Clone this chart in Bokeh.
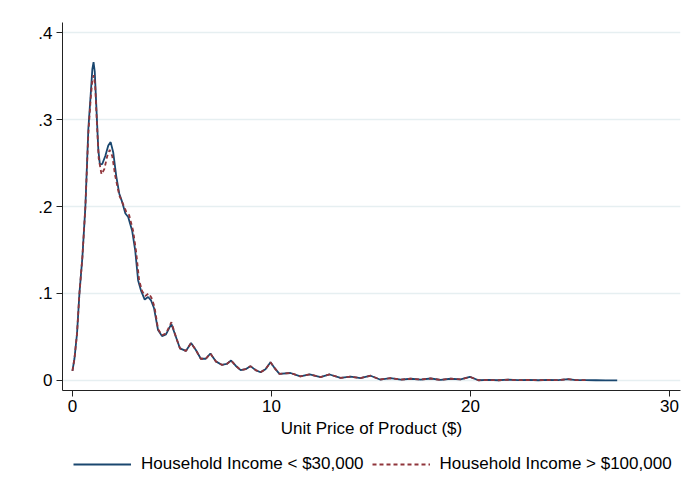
from bokeh.plotting import figure
from bokeh.layouts import column
from bokeh.models import Range1d, FixedTicker, Legend, LegendItem
from bokeh.embed import file_html
from bokeh.resources import INLINE

# Kernel density of unit price, Household Income < $30,000
price_low = [0.0, 0.1, 0.23, 0.35, 0.5, 0.65, 0.8, 0.92, 1.0, 1.06, 1.12, 1.2, 1.3, 1.38,
             1.5, 1.65, 1.8, 1.92, 2.05, 2.2, 2.35, 2.5, 2.66, 2.8, 3.0, 3.15, 3.3, 3.45,
             3.63, 3.8, 3.95, 4.1, 4.3, 4.5, 4.7, 4.97, 5.2, 5.4, 5.7, 5.96, 6.2, 6.45,
             6.7, 6.93, 7.2, 7.5, 7.75, 7.97, 8.2, 8.45, 8.7, 8.94, 9.2, 9.45, 9.7, 9.95,
             10.2, 10.4, 10.95, 11.45, 11.92, 12.46, 12.92, 13.47, 13.97, 14.47, 14.98,
             15.45, 15.98, 16.5, 17.0, 17.5, 18.0, 18.5, 19.0, 19.5, 19.97, 20.4, 20.9,
             21.4, 21.9, 22.4, 22.9, 23.4, 23.9, 24.4, 24.9, 25.3, 25.8, 26.3, 26.8, 27.37]
density_low = [0.011, 0.025, 0.054, 0.100, 0.142, 0.200, 0.290, 0.330, 0.358, 0.366, 0.355,
               0.315, 0.265, 0.248, 0.249, 0.258, 0.270, 0.274, 0.262, 0.235, 0.215, 0.205,
               0.192, 0.188, 0.172, 0.150, 0.115, 0.103, 0.093, 0.096, 0.092, 0.083, 0.058,
               0.051, 0.053, 0.065, 0.050, 0.037, 0.034, 0.043, 0.035, 0.025, 0.025, 0.031,
               0.022, 0.018, 0.019, 0.023, 0.017, 0.012, 0.013, 0.0165, 0.012, 0.0095, 0.013,
               0.021, 0.013, 0.0077, 0.0086, 0.0048, 0.0071, 0.0040, 0.0069, 0.0030, 0.0044,
               0.0027, 0.0055, 0.0011, 0.0027, 0.0010, 0.0020, 0.0011, 0.0023, 0.0006, 0.0020,
               0.0012, 0.0042, 0.0003, 0.0006, 0.0003, 0.0009, 0.0004, 0.0006, 0.0003, 0.0006,
               0.0004, 0.0015, 0.0004, 0.0004, 0.0003, 0.0002, 0.0001]

# Kernel density of unit price, Household Income > $100,000
price_high = [0.0, 0.1, 0.23, 0.35, 0.5, 0.65, 0.8, 0.92, 1.0, 1.07, 1.14, 1.22, 1.32, 1.46,
              1.6, 1.75, 1.87, 2.0, 2.15, 2.35, 2.5, 2.7, 2.85, 3.05, 3.2, 3.35, 3.5, 3.65,
              3.83, 3.97, 4.12, 4.3, 4.5, 4.7, 4.97, 5.2, 5.4, 5.7, 5.96, 6.2, 6.45,
              6.7, 6.93, 7.2, 7.5, 7.75, 7.97, 8.2, 8.45, 8.7, 8.94, 9.2, 9.45, 9.7, 9.95,
              10.2, 10.4, 10.95, 11.45, 11.92, 12.46, 12.92, 13.47, 13.97, 14.47, 14.98,
              15.45, 15.98, 16.5, 17.0, 17.5, 18.0, 18.5, 19.0, 19.5, 19.97, 20.4, 20.9,
              21.4, 21.9, 22.4, 22.9, 23.4, 23.9, 24.4, 24.9, 25.3, 25.9]
density_high = [0.011, 0.025, 0.054, 0.100, 0.142, 0.200, 0.285, 0.325, 0.345, 0.351, 0.340,
                0.300, 0.255, 0.237, 0.243, 0.258, 0.265, 0.258, 0.235, 0.213, 0.205, 0.194,
                0.190, 0.172, 0.148, 0.115, 0.103, 0.097, 0.100, 0.095, 0.085, 0.059, 0.052,
                0.054, 0.067, 0.050, 0.037, 0.034, 0.043, 0.035, 0.025, 0.025, 0.031,
                0.022, 0.018, 0.019, 0.023, 0.017, 0.012, 0.013, 0.0165, 0.012, 0.0095, 0.013,
                0.021, 0.013, 0.0077, 0.0086, 0.0048, 0.0071, 0.0040, 0.0069, 0.0030, 0.0044,
                0.0027, 0.0055, 0.0011, 0.0027, 0.0010, 0.0020, 0.0011, 0.0023, 0.0006, 0.0020,
                0.0012, 0.0042, 0.0003, 0.0006, 0.0003, 0.0009, 0.0004, 0.0006, 0.0003, 0.0006,
                0.0004, 0.0015, 0.0004, 0.0003]

x_ticks = [0, 10, 20, 30]
y_ticks = [0, 0.1, 0.2, 0.3, 0.4]
y_tick_labels = ["0", ".1", ".2", ".3", ".4"]
label_low = "Household Income < $30,000"
label_high = "Household Income > $100,000"
x_title = "Unit Price of Product ($)"

FONT = "Liberation Sans"
NAVY = "#1a476f"
MAROON = "#90353b"

# ---------------- main plot ----------------
fig = figure(width=684, height=448, output_backend="svg", toolbar_location=None,
             x_range=Range1d(-0.5, 30.55), y_range=Range1d(-0.0115, 0.4115),
             min_border_left=62, min_border_top=22, min_border_right=4,
             min_border_bottom=58)
fig.outline_line_color = None
fig.background_fill_color = "white"
fig.border_fill_color = "white"

fig.line(price_low, density_low, line_color=NAVY, line_width=1.8)
fig.line(price_high, density_high, line_color=MAROON, line_width=1.8, line_dash="4 3")

fig.xgrid.grid_line_color = None
fig.ygrid.grid_line_color = "#e6eff1"
fig.ygrid.grid_line_width = 1.5

for ax in (fig.xaxis[0], fig.yaxis[0]):
    ax.axis_line_color = "#222222"
    ax.axis_line_width = 1
    ax.major_tick_line_color = "#222222"
    ax.major_tick_out = 6
    ax.major_tick_in = 0
    ax.minor_tick_out = 0
    ax.minor_tick_in = 0
    ax.major_label_text_font = FONT
    ax.major_label_text_font_size = "17px"
    ax.major_label_text_color = "black"

fig.xaxis.ticker = FixedTicker(ticks=x_ticks)
fig.yaxis.ticker = FixedTicker(ticks=y_ticks)
fig.yaxis.major_label_overrides = {t: l for t, l in zip(y_ticks, y_tick_labels)}
fig.yaxis.major_label_orientation = "horizontal"
fig.yaxis.major_label_standoff = 4
fig.xaxis.major_label_standoff = 3
fig.xaxis.axis_label = x_title
fig.xaxis.axis_label_text_font = FONT
fig.xaxis.axis_label_text_font_size = "17px"
fig.xaxis.axis_label_text_font_style = "normal"
fig.xaxis.axis_label_text_color = "black"
fig.xaxis.axis_label_standoff = 4

# ---------------- legend strip ----------------
leg = figure(width=684, height=50, output_backend="svg", toolbar_location=None,
             x_range=Range1d(100, 101), y_range=Range1d(100, 101),
             min_border=0, x_axis_type=None, y_axis_type=None)
leg.outline_line_color = None
leg.xgrid.grid_line_color = None
leg.ygrid.grid_line_color = None
leg.border_fill_color = "white"
r_low = leg.line(price_low, density_low, line_color=NAVY, line_width=1.8)
r_high = leg.line(price_high, density_high, line_color=MAROON, line_width=1.8,
                  line_dash="4 3")

legend = Legend(items=[LegendItem(label=label_low, renderers=[r_low]),
                       LegendItem(label=label_high, renderers=[r_high])],
                orientation="horizontal", location=(11, 24),
                label_text_font=FONT, label_text_font_size="17px",
                label_text_color="black",
                glyph_width=58, glyph_height=16, label_standoff=10, spacing=8,
                padding=2, margin=0, border_line_color=None,
                background_fill_alpha=0)
leg.add_layout(legend, "center")

p = column(fig, leg, spacing=0)

open("out.html", "w").write(file_html(p, INLINE))
